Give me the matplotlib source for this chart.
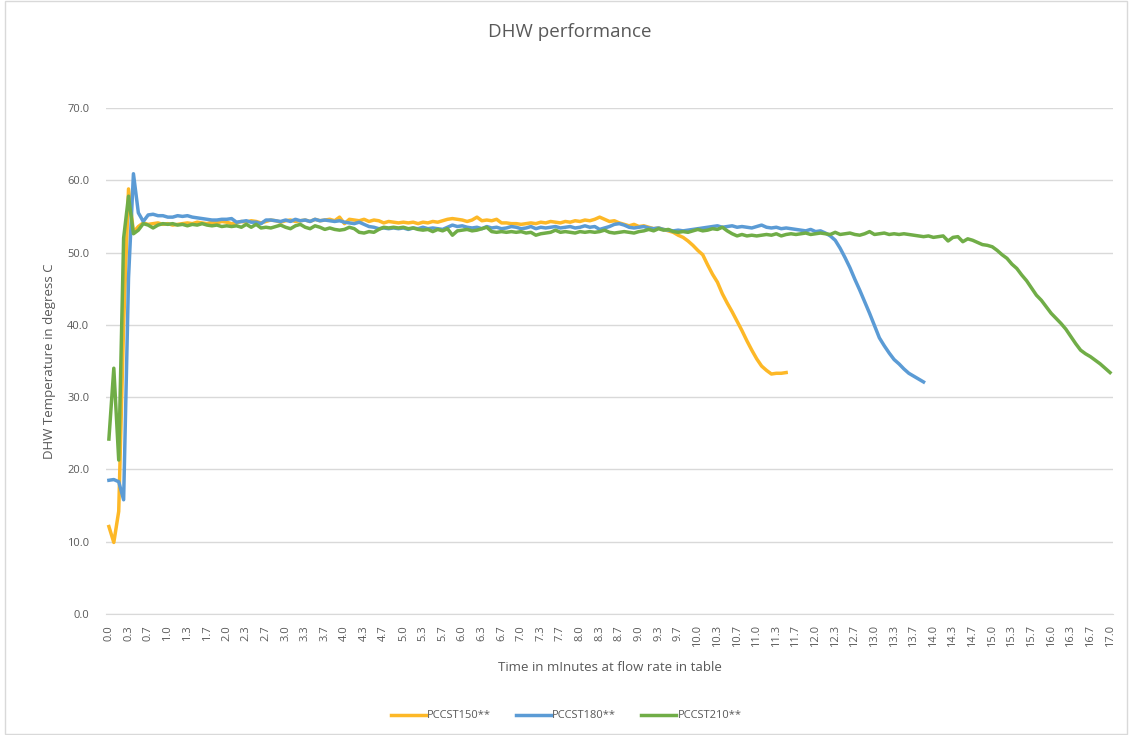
import matplotlib
matplotlib.use('Agg')
import matplotlib.pyplot as plt
from matplotlib.patches import Rectangle

# readings every 5 seconds (12 per minute)
pccst150 = [12.1, 9.9, 14.2, 40.0, 58.8, 52.8, 53.6, 54.1, 53.9, 54.0,
            54.1, 53.9, 54.0, 53.8, 53.9, 54.0, 54.1, 54.0, 54.2, 54.1,
            54.0, 54.2, 54.1, 54.3, 54.2, 54.0, 54.1, 54.3, 54.2, 54.4,
            54.3, 54.1, 54.3, 54.5, 54.4, 54.2, 54.4, 54.5, 54.3, 54.4,
            54.5, 54.3, 54.6, 54.4, 54.5, 54.6, 54.4, 54.9, 54.0, 54.6,
            54.5, 54.4, 54.6, 54.3, 54.5, 54.4, 54.1, 54.3, 54.2, 54.1,
            54.2, 54.1, 54.2, 54.0, 54.2, 54.1, 54.3, 54.2, 54.4, 54.6,
            54.7, 54.6, 54.5, 54.3, 54.5, 54.9, 54.4, 54.5, 54.4, 54.6,
            54.1, 54.1, 54.0, 54.0, 53.9, 54.0, 54.1, 54.0, 54.2, 54.1,
            54.3, 54.2, 54.1, 54.3, 54.2, 54.4, 54.3, 54.5, 54.4, 54.6,
            54.9, 54.6, 54.3, 54.4, 54.1, 53.9, 53.7, 53.9, 53.6, 53.7,
            53.5, 53.3, 53.4, 53.2, 53.0, 52.8, 52.4, 52.1, 51.6, 51.0,
            50.3, 49.7, 48.3, 47.0, 45.9, 44.3, 43.0, 41.8, 40.5, 39.2,
            37.8, 36.5, 35.3, 34.3, 33.7, 33.2, 33.3, 33.3, 33.4]

pccst180 = [18.5, 18.6, 18.3, 15.8, 46.5, 60.9, 55.5, 54.3, 55.2, 55.3,
            55.1, 55.1, 54.9, 54.9, 55.1, 55.0, 55.1, 54.9, 54.8, 54.7,
            54.6, 54.5, 54.5, 54.6, 54.6, 54.7, 54.2, 54.3, 54.4, 54.2,
            54.2, 54.0, 54.5, 54.5, 54.4, 54.3, 54.5, 54.3, 54.6, 54.4,
            54.5, 54.3, 54.6, 54.4, 54.5, 54.4, 54.3, 54.4, 54.2, 54.1,
            54.0, 54.2, 53.9, 53.6, 53.5, 53.3, 53.4, 53.3, 53.4, 53.3,
            53.4, 53.2, 53.4, 53.3, 53.5, 53.3, 53.4, 53.3, 53.2, 53.5,
            53.8, 53.6, 53.7, 53.5, 53.4, 53.5, 53.3, 53.6, 53.4, 53.5,
            53.3, 53.4, 53.6, 53.5, 53.3, 53.4, 53.6, 53.3, 53.5, 53.4,
            53.5, 53.6, 53.4, 53.5, 53.6, 53.4, 53.5, 53.7, 53.5, 53.6,
            53.2, 53.4, 53.6, 53.9, 54.0, 53.8, 53.5, 53.4, 53.5, 53.6,
            53.4, 53.3, 53.4, 53.2, 53.1, 53.0, 53.1, 53.0, 53.1, 53.2,
            53.3, 53.4, 53.5, 53.6, 53.7, 53.5, 53.6, 53.7, 53.5, 53.6,
            53.5, 53.4, 53.6, 53.8, 53.5, 53.4, 53.5, 53.3, 53.4, 53.3,
            53.2, 53.1, 53.0, 53.2, 52.9, 53.0, 52.7, 52.3, 51.7, 50.6,
            49.3, 47.9, 46.3, 44.8, 43.2, 41.6, 39.9, 38.2, 37.1, 36.1,
            35.2, 34.6, 33.9, 33.3, 32.9, 32.5, 32.1]

pccst210 = [24.2, 34.0, 21.3, 52.0, 57.8, 52.6, 53.1, 54.0, 53.8, 53.4,
            53.8, 54.0, 53.9, 54.0, 53.8, 53.9, 53.7, 53.9, 53.8, 54.0,
            53.8, 53.7, 53.8, 53.6, 53.7, 53.6, 53.7, 53.5, 53.9, 53.5,
            53.9, 53.4, 53.5, 53.4, 53.6, 53.8, 53.5, 53.3, 53.7, 53.9,
            53.5, 53.3, 53.7, 53.5, 53.2, 53.4, 53.2, 53.1, 53.2, 53.5,
            53.3, 52.8, 52.7, 52.9, 52.8, 53.2, 53.5, 53.4, 53.5, 53.4,
            53.5, 53.3, 53.4, 53.2, 53.1, 53.2, 52.9, 53.2, 53.0, 53.3,
            52.4, 53.0, 53.1, 53.2, 53.0, 53.1, 53.3, 53.5, 52.9, 52.8,
            52.9, 52.8, 52.9, 52.8, 52.9, 52.7, 52.8, 52.4, 52.6, 52.7,
            52.8, 53.1, 52.8, 52.9, 52.8, 52.7, 52.9, 52.8, 52.9, 52.8,
            52.9, 53.1, 52.8, 52.7, 52.8, 52.9, 52.8, 52.7, 52.9, 53.0,
            53.2, 53.0, 53.3, 53.1, 53.2, 52.9, 52.8, 52.9, 52.8, 53.0,
            53.2, 53.0, 53.1, 53.3, 53.2, 53.5, 53.0, 52.6, 52.3, 52.5,
            52.3, 52.4, 52.3, 52.4, 52.5, 52.4, 52.6, 52.3, 52.5, 52.6,
            52.5, 52.6, 52.7, 52.5, 52.6, 52.7, 52.6, 52.5, 52.8, 52.5,
            52.6, 52.7, 52.5, 52.4, 52.6, 52.9, 52.5, 52.6, 52.7, 52.5,
            52.6, 52.5, 52.6, 52.5, 52.4, 52.3, 52.2, 52.3, 52.1, 52.2,
            52.3, 51.6, 52.1, 52.2, 51.5, 51.9, 51.7, 51.4, 51.1, 51.0,
            50.8, 50.3, 49.7, 49.2, 48.4, 47.8, 46.9, 46.1, 45.1, 44.1,
            43.4, 42.5, 41.6, 40.9, 40.2, 39.4, 38.4, 37.4, 36.5, 36.0,
            35.6, 35.1, 34.6, 34.0, 33.4]

series_names = ['PCCST150**', 'PCCST180**', 'PCCST210**']
colors = ['#FDB827', '#5B9BD5', '#70AD47']

n_points = len(pccst210)
time_labels = ['%.1f' % (i / 12.0) for i in range(0, n_points, 4)]

plt.rcParams['font.family'] = ['Open Sans', 'DejaVu Sans']
txt = '#595959'
grid = '#D9D9D9'

fig = plt.figure(figsize=(11.32, 7.35), dpi=100, facecolor='white')
ax = fig.add_axes([0.0936, 0.1646, 0.8896, 0.6885])

for data, name, c in zip([pccst150, pccst180, pccst210], series_names, colors):
    ax.plot(range(len(data)), data, color=c, lw=2.5, label=name,
            solid_joinstyle='round')

ax.set_ylim(0, 70)
ax.set_yticks(range(0, 71, 10))
ax.set_yticklabels(['%.1f' % v for v in range(0, 71, 10)])
ax.set_xlim(-0.6, n_points - 1 + 0.6)
ax.set_xticks(range(0, n_points, 4))
ax.set_xticklabels(time_labels, rotation=90)
ax.tick_params(axis='both', length=0, labelsize=8, colors=txt)
ax.tick_params(axis='x', pad=8)
ax.tick_params(axis='y', pad=12)
ax.grid(axis='y', color=grid, lw=1)
ax.set_axisbelow(True)
for s in ['top', 'right', 'left']:
    ax.spines[s].set_visible(False)
ax.spines['bottom'].set_color(grid)

ax.set_xlabel('Time in mInutes at flow rate in table', color=txt, fontsize=9.5,
              labelpad=10)
ax.set_ylabel('DHW Temperature in degress C', color=txt, fontsize=9.5,
              labelpad=8)
fig.text(0.503, 0.957, 'DHW performance', ha='center', va='center',
         color=txt, fontsize=13.5)

leg = fig.legend(loc='center', bbox_to_anchor=(0.5, 0.026), ncol=3,
                 frameon=False, fontsize=8, handlelength=3.2,
                 columnspacing=2.2, handletextpad=0.1)
for t in leg.get_texts():
    t.set_color(txt)

# chart area border
fig.patches.append(Rectangle((0.004, 0.002), 0.992, 0.996, transform=fig.transFigure,
                             fill=False, edgecolor=grid, lw=1))

fig.savefig('out.png', dpi=100, facecolor='white')
